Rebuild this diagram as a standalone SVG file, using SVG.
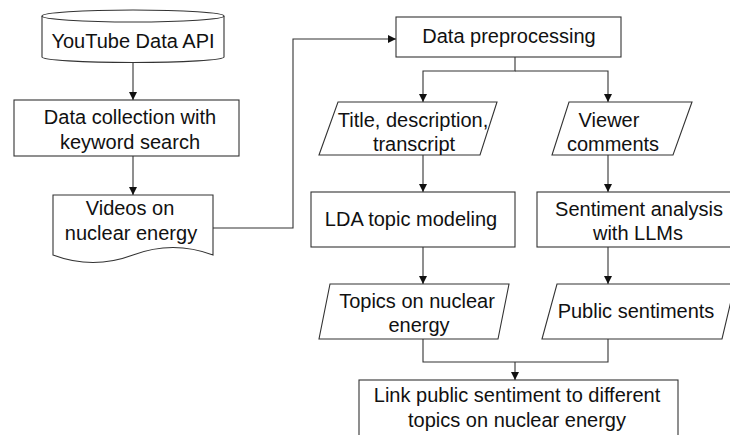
<svg xmlns="http://www.w3.org/2000/svg" width="730" height="435" viewBox="0 0 730 435">
<defs>
<style>
.s{fill:#fff;stroke:#333;stroke-width:1.1}
.c{fill:none;stroke:#333;stroke-width:1.1}
text{font-family:"Liberation Sans",Arial,sans-serif;font-size:20px;fill:#111;text-anchor:middle}
</style>
<marker id="a" markerUnits="userSpaceOnUse" markerWidth="9" markerHeight="9" refX="8" refY="4" orient="auto">
<path d="M0,0 L8,4 L0,8 z" fill="#111"/>
</marker>
</defs>
<rect width="730" height="435" fill="#fff"/>
<g id="connectors">
<path class="c" d="M133,62 V100" marker-end="url(#a)"/>
<path class="c" d="M133,156 V195" marker-end="url(#a)"/>
<path class="c" d="M213,228 H293 V39 H396" marker-end="url(#a)"/>
<path class="c" d="M515,57 V71 H423 V102" marker-end="url(#a)"/>
<path class="c" d="M515,71 H608 V102" marker-end="url(#a)"/>
<path class="c" d="M423,155 V192" marker-end="url(#a)"/>
<path class="c" d="M608,155 V192" marker-end="url(#a)"/>
<path class="c" d="M423,247 V284" marker-end="url(#a)"/>
<path class="c" d="M608,247 V284" marker-end="url(#a)"/>
<path class="c" d="M423,339 V362 H608 V339"/>
<path class="c" d="M515,362 V380" marker-end="url(#a)"/>
</g>
<g id="youtube-api">
<path class="s" d="M42,16 V57 A91,5.5 0 0 0 224,57 V16 A91,6 0 0 0 42,16 Z"/>
<path class="c" d="M42,16 A91,6 0 0 0 224,16"/>
<text x="133" y="48">YouTube Data API</text>
</g>
<g id="data-collection">
<rect class="s" x="14" y="100" width="225" height="56"/>
<text x="130" y="124">Data collection with</text>
<text x="130" y="149">keyword search</text>
</g>
<g id="videos">
<path class="s" d="M53,195 H213 V255 Q173,240 133,255 Q93,270 53,255 Z"/>
<text x="130" y="215">Videos on</text>
<text x="131" y="240">nuclear energy</text>
</g>
<g id="preprocessing">
<rect class="s" x="396" y="17" width="225" height="40"/>
<text x="509" y="43">Data preprocessing</text>
</g>
<g id="title-desc">
<polygon class="s" points="338,102 497,102 480,155 319,155"/>
<text x="413" y="127">Title, description,</text>
<text x="414" y="151">transcript</text>
</g>
<g id="viewer-comments">
<polygon class="s" points="569,102 692,102 673,155 552,155"/>
<text x="609" y="127">Viewer</text>
<text x="613" y="151">comments</text>
</g>
<g id="lda">
<rect class="s" x="311" y="192" width="204" height="55"/>
<text x="411" y="226">LDA topic modeling</text>
</g>
<g id="sentiment-analysis">
<rect class="s" x="537" y="192" width="200" height="55"/>
<text x="639" y="216">Sentiment analysis</text>
<text x="638" y="240">with LLMs</text>
</g>
<g id="topics">
<polygon class="s" points="330,284 509,284 498,339 319,339"/>
<text x="417" y="308">Topics on nuclear</text>
<text x="419" y="332">energy</text>
</g>
<g id="public-sentiments">
<polygon class="s" points="557,284 735,284 722,339 542,339"/>
<text x="636" y="318">Public sentiments</text>
</g>
<g id="link">
<rect class="s" x="359" y="380" width="319" height="70"/>
<text x="517" y="402">Link public sentiment to different</text>
<text x="517" y="427">topics on nuclear energy</text>
</g>
</svg>
